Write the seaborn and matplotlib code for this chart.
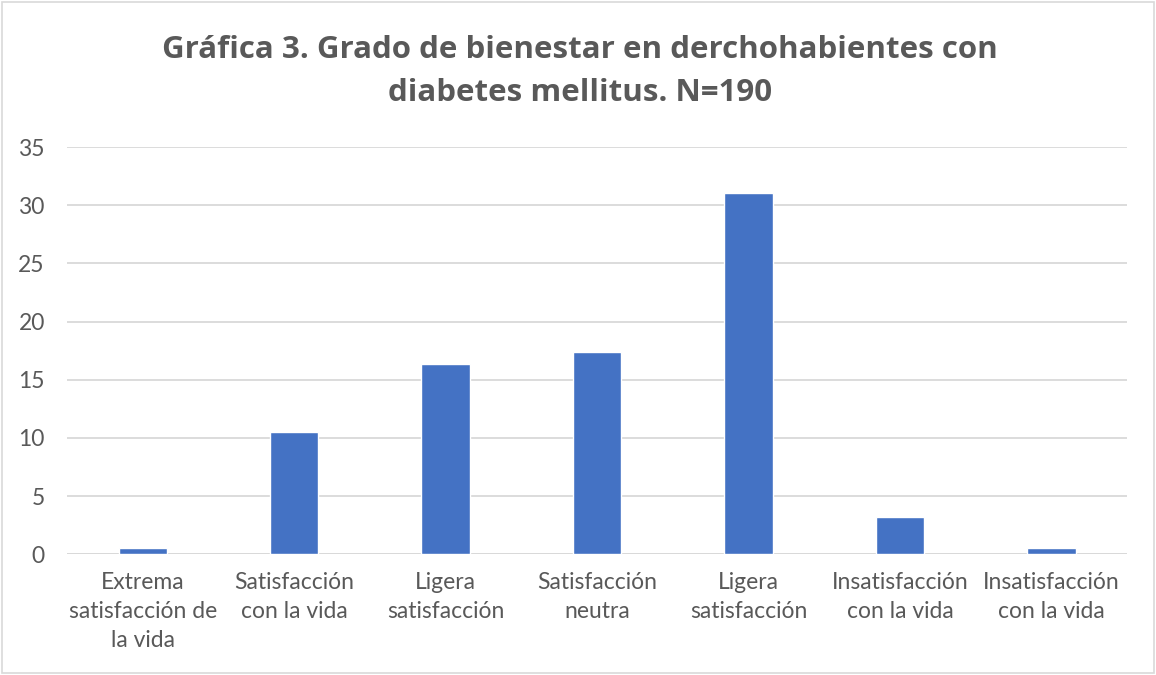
import matplotlib
matplotlib.use("Agg")
import matplotlib.pyplot as plt
import seaborn as sns
import pandas as pd
from matplotlib.patches import Rectangle

categories = [
    "Extrema\nsatisfacción de\nla vida",
    "Satisfacción\ncon la vida",
    "Ligera\nsatisfacción",
    "Satisfacción\nneutra",
    "Ligera\nsatisfacción",
    "Insatisfacción\ncon la vida",
    "Insatisfacción\ncon la vida",
]
values = [0.53, 10.53, 16.32, 17.37, 31.05, 3.16, 0.53]
yticks = [0, 5, 10, 15, 20, 25, 30, 35]
title = "Gráfica 3. Grado de bienestar en derchohabientes con\ndiabetes mellitus. N=190"

sns.set_theme(style="white")
plt.rcParams['font.family'] = ['Lato', 'DejaVu Sans']

df = pd.DataFrame({"pos": list(range(len(values))), "val": values})

fig = plt.figure(figsize=(11.56, 6.75), dpi=100)
ax = fig.add_axes([0.058, 0.179, 0.917, 0.603])
sns.barplot(data=df, x="pos", y="val", color="#4472C4", width=0.32,
            saturation=1, ax=ax, zorder=3)
ax.set_ylim(0, 35)
ax.set_xlim(-0.5, len(values) - 0.5)
ax.set_yticks(yticks)
ax.set_yticklabels([str(t) for t in yticks], fontsize=16.5, color="#595959")
ax.set_xticks(range(len(values)))
ax.set_xticklabels(categories, fontsize=16.5, color="#595959", linespacing=1.45)
ax.tick_params(axis="x", length=0, pad=13)
ax.tick_params(axis="y", length=0, pad=16)
ax.set_xlabel("")
ax.set_ylabel("")
ax.grid(axis="y", color="#d9d9d9", linewidth=1.3, zorder=0)
for s in ax.spines.values():
    s.set_visible(False)
ax.axhline(0, color="#d9d9d9", linewidth=1.3, zorder=2)

fig.text(0.502, 0.894, title, ha="center", va="center", fontsize=22.5,
         fontweight="bold", color="#595959", linespacing=1.6,
         family=['Open Sans', 'DejaVu Sans'])

fig.patches.append(Rectangle((0.002, 0.003), 0.996, 0.994, transform=fig.transFigure,
                             fill=False, edgecolor="#d9d9d9", linewidth=1.2))

fig.savefig("out.png", dpi=100)
